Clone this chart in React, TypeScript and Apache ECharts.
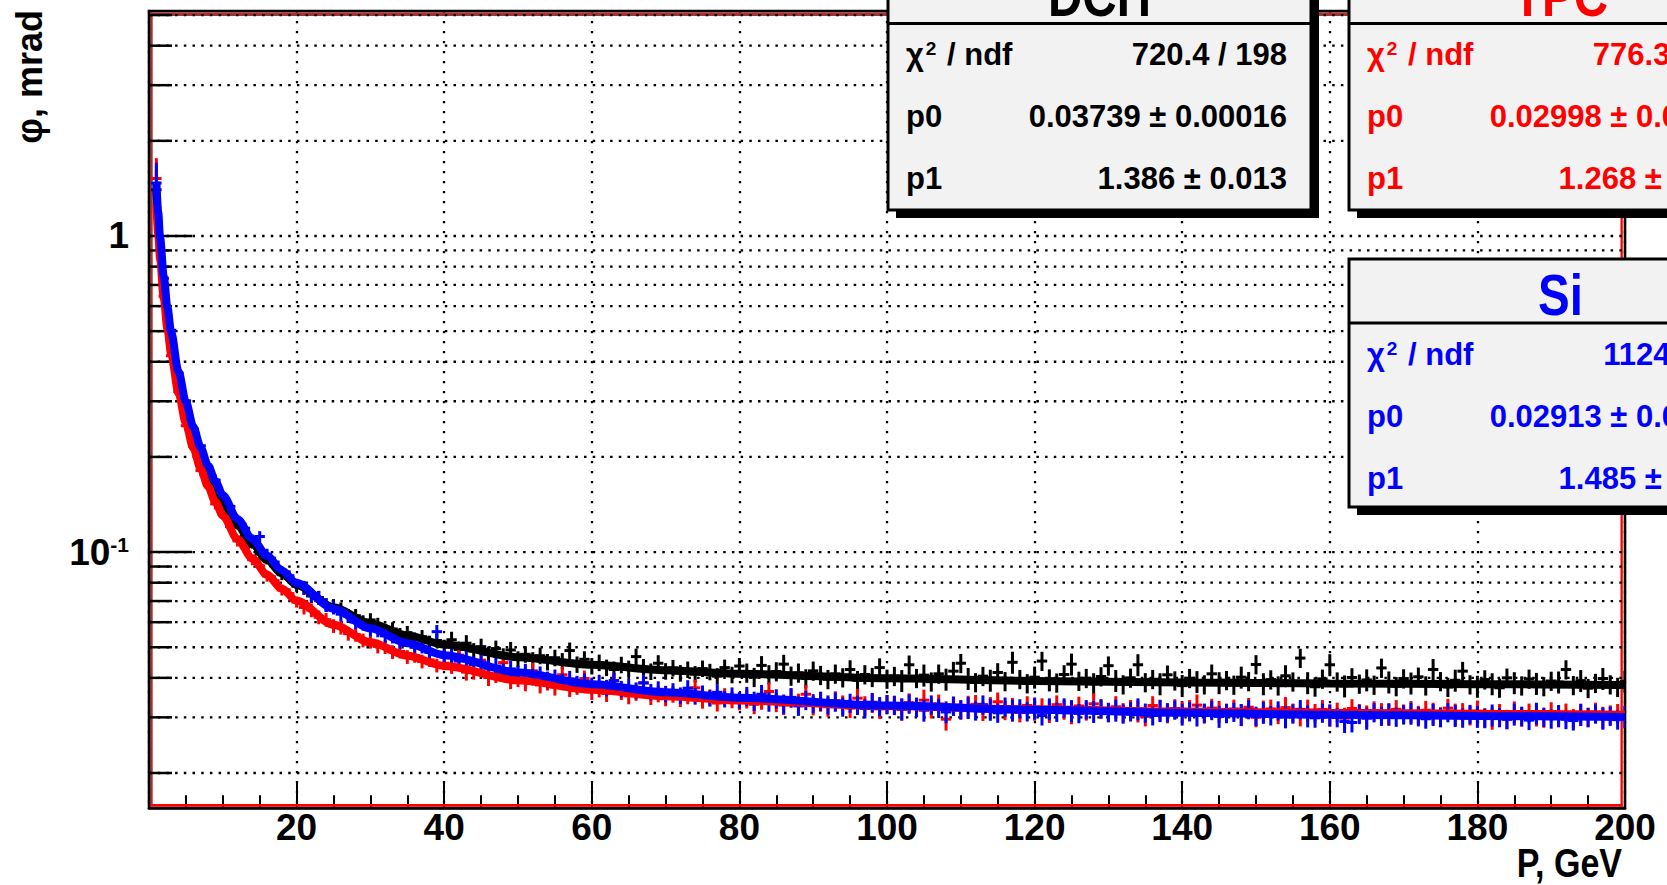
import React, { useEffect, useRef } from "react";
import * as echarts from "echarts";

// ---------- data ----------
const xBins: number[] = Array.from({ length: 200 }, (_, i) => i + 1);
const xErr = 0.5;

const dchY = [
  1.40, 0.700, 0.458, 0.352, 0.276, 0.236, 0.199, 0.179, 0.156, 0.145,
  0.130, 0.123, 0.112, 0.107, 0.0985, 0.0952, 0.0905, 0.0849, 0.0828, 0.0780,
  0.0772, 0.0726, 0.0718, 0.0681, 0.0676, 0.0660, 0.0628, 0.0629, 0.0601, 0.0610,
  0.0590, 0.0565, 0.0571, 0.0548, 0.0556, 0.0530, 0.0540, 0.0518, 0.0525, 0.0503,
  0.0528, 0.0492, 0.0515, 0.0486, 0.0502, 0.0474, 0.0495, 0.0468, 0.0490, 0.0458,
  0.0475, 0.0455, 0.0470, 0.0449, 0.0463, 0.0452, 0.0488, 0.0441, 0.0458, 0.0436,
  0.0447, 0.0431, 0.0425, 0.0440, 0.0428, 0.0467, 0.0433, 0.0419, 0.0445, 0.0420,
  0.0430, 0.0414, 0.0425, 0.0411, 0.0428, 0.0418, 0.0405, 0.0431, 0.0409, 0.0436,
  0.0415, 0.0402, 0.0438, 0.0410, 0.0419, 0.0442, 0.0406, 0.0415, 0.0398, 0.0421,
  0.0408, 0.0396, 0.0412, 0.0401, 0.0425, 0.0393, 0.0410, 0.0402, 0.0431, 0.0397,
  0.0405, 0.0392, 0.0440, 0.0399, 0.0408, 0.0389, 0.0412, 0.0396, 0.0420, 0.0445,
  0.0398, 0.0387, 0.0405, 0.0393, 0.0416, 0.0390, 0.0448, 0.0396, 0.0384, 0.0402,
  0.0452, 0.0394, 0.0386, 0.0410, 0.0442, 0.0391, 0.0399, 0.0383, 0.0404, 0.0437,
  0.0392, 0.0381, 0.0400, 0.0440, 0.0387, 0.0396, 0.0383, 0.0409, 0.0392, 0.0378,
  0.0399, 0.0389, 0.0381, 0.0412, 0.0386, 0.0393, 0.0380, 0.0402, 0.0390, 0.0441,
  0.0383, 0.0395, 0.0378, 0.0406, 0.0389, 0.0462, 0.0386, 0.0375, 0.0397, 0.0440,
  0.0389, 0.0377, 0.0401, 0.0383, 0.0394, 0.0380, 0.0430, 0.0388, 0.0376, 0.0398,
  0.0385, 0.0403, 0.0378, 0.0425, 0.0390, 0.0374, 0.0393, 0.0420, 0.0381, 0.0376,
  0.0395, 0.0383, 0.0372, 0.0400, 0.0386, 0.0378, 0.0397, 0.0384, 0.0376, 0.0391,
  0.0388, 0.0425, 0.0379, 0.0392, 0.0371, 0.0385, 0.0398, 0.0381, 0.0374, 0.0390,
];

const tpcY = [
  1.52, 0.645, 0.418, 0.322, 0.251, 0.216, 0.181, 0.163, 0.142, 0.132,
  0.1205, 0.1085, 0.1032, 0.0946, 0.0905, 0.0840, 0.0812, 0.0759, 0.0739, 0.0695,
  0.0668, 0.0655, 0.0622, 0.0611, 0.0584, 0.0577, 0.0552, 0.0548, 0.0526, 0.0521,
  0.0503, 0.0501, 0.0483, 0.0485, 0.0466, 0.0470, 0.0451, 0.0456, 0.0438, 0.0445,
  0.0438, 0.0472, 0.0417, 0.0420, 0.0455, 0.0401, 0.0410, 0.0447, 0.0392, 0.0398,
  0.0386, 0.0421, 0.0380, 0.0388, 0.0374, 0.0409, 0.0370, 0.0376, 0.0398, 0.0362,
  0.0369, 0.0357, 0.0392, 0.0362, 0.0351, 0.0360, 0.0385, 0.0349, 0.0356, 0.0346,
  0.0355, 0.0344, 0.0351, 0.0372, 0.0340, 0.0347, 0.0333, 0.0350, 0.0341, 0.0336,
  0.0344, 0.0330, 0.0341, 0.0362, 0.0335, 0.0328, 0.0346, 0.0333, 0.0355, 0.0327,
  0.0336, 0.0324, 0.0339, 0.0329, 0.0321, 0.0345, 0.0327, 0.0333, 0.0319, 0.0330,
  0.0328, 0.0318, 0.0334, 0.0324, 0.0340, 0.0320, 0.0331, 0.0296, 0.0326, 0.0317,
  0.0325, 0.0330, 0.0314, 0.0322, 0.0336, 0.0316, 0.0320, 0.0311, 0.0327, 0.0318,
  0.0322, 0.0313, 0.0329, 0.0317, 0.0310, 0.0326, 0.0315, 0.0331, 0.0319, 0.0312,
  0.0324, 0.0311, 0.0318, 0.0314, 0.0302, 0.0327, 0.0316, 0.0309, 0.0320, 0.0312,
  0.0318, 0.0328, 0.0308, 0.0321, 0.0313, 0.0310, 0.0319, 0.0306, 0.0323, 0.0300,
  0.0314, 0.0319, 0.0307, 0.0322, 0.0310, 0.0302, 0.0316, 0.0309, 0.0318, 0.0305,
  0.0312, 0.0298, 0.0320, 0.0309, 0.0303, 0.0315, 0.0311, 0.0306, 0.0318, 0.0308,
  0.0313, 0.0305, 0.0316, 0.0309, 0.0302, 0.0321, 0.0307, 0.0311, 0.0304, 0.0314,
  0.0300, 0.0298, 0.0309, 0.0296, 0.0312, 0.0301, 0.0310, 0.0305, 0.0299, 0.0313,
  0.0303, 0.0310, 0.0298, 0.0307, 0.0301, 0.0312, 0.0300, 0.0306, 0.0309, 0.0302,
];

const siY = [
  1.47, 0.735, 0.503, 0.368, 0.301, 0.246, 0.217, 0.186, 0.169, 0.150,
  0.1395, 0.1262, 0.1190, 0.1093, 0.1120, 0.0985, 0.0930, 0.0869, 0.0842, 0.0792,
  0.0771, 0.0729, 0.0716, 0.0680, 0.0668, 0.0636, 0.0629, 0.0600, 0.0594, 0.0570,
  0.0566, 0.0543, 0.0541, 0.0520, 0.0530, 0.0500, 0.0503, 0.0482, 0.0560, 0.0468,
  0.0471, 0.0452, 0.0460, 0.0441, 0.0447, 0.0429, 0.0436, 0.0419, 0.0427, 0.0412,
  0.0418, 0.0403, 0.0410, 0.0395, 0.0401, 0.0389, 0.0397, 0.0383, 0.0390, 0.0378,
  0.0386, 0.0372, 0.0392, 0.0369, 0.0375, 0.0365, 0.0386, 0.0361, 0.0368, 0.0356,
  0.0363, 0.0352, 0.0371, 0.0350, 0.0357, 0.0345, 0.0360, 0.0343, 0.0352, 0.0340,
  0.0350, 0.0338, 0.0355, 0.0336, 0.0344, 0.0331, 0.0347, 0.0326, 0.0340, 0.0332,
  0.0338, 0.0329, 0.0336, 0.0324, 0.0333, 0.0328, 0.0320, 0.0335, 0.0325, 0.0330,
  0.0328, 0.0319, 0.0331, 0.0323, 0.0316, 0.0329, 0.0321, 0.0312, 0.0326, 0.0318,
  0.0322, 0.0315, 0.0329, 0.0318, 0.0310, 0.0324, 0.0316, 0.0320, 0.0313, 0.0321,
  0.0304, 0.0319, 0.0312, 0.0322, 0.0315, 0.0309, 0.0318, 0.0313, 0.0320, 0.0311,
  0.0316, 0.0308, 0.0313, 0.0319, 0.0310, 0.0304, 0.0315, 0.0311, 0.0317, 0.0307,
  0.0313, 0.0305, 0.0310, 0.0316, 0.0302, 0.0309, 0.0312, 0.0306, 0.0318, 0.0303,
  0.0311, 0.0304, 0.0315, 0.0301, 0.0308, 0.0318, 0.0303, 0.0299, 0.0310, 0.0305,
  0.0300, 0.0291, 0.0289, 0.0307, 0.0298, 0.0311, 0.0303, 0.0308, 0.0301, 0.0306,
  0.0309, 0.0302, 0.0297, 0.0306, 0.0300, 0.0311, 0.0304, 0.0299, 0.0307, 0.0302,
  0.0298, 0.0305, 0.0300, 0.0296, 0.0307, 0.0303, 0.0294, 0.0309, 0.0301, 0.0297,
  0.0304, 0.0296, 0.0293, 0.0306, 0.0300, 0.0308, 0.0298, 0.0303, 0.0295, 0.0301,
];

// relative vertical error (percent) per bin
const errPct = [
  16, 10, 7, 5, 4, 4, 4, 4, 4, 4, 4, 4, 4, 4, 4, 4, 4, 4, 4, 4,
  5, 5, 5, 5, 5, 5, 5, 5, 5, 5, 5, 5, 5, 5, 5, 5, 5, 5, 5, 5,
  6, 6, 6, 6, 6, 6, 6, 6, 6, 6, 6, 6, 6, 6, 6, 6, 6, 6, 6, 6,
  6, 6, 6, 6, 6, 6, 6, 6, 6, 6, 6, 6, 6, 6, 6, 6, 6, 6, 6, 6,
  7, 7, 7, 7, 7, 7, 7, 7, 7, 7, 7, 7, 7, 7, 7, 7, 7, 7, 7, 7,
  7, 8, 7, 7, 8, 7, 7, 8, 7, 7, 8, 7, 7, 8, 7, 7, 8, 7, 7, 8,
  7, 8, 7, 7, 8, 7, 7, 8, 7, 7, 8, 7, 7, 8, 7, 7, 8, 7, 7, 8,
  7, 8, 7, 7, 8, 7, 7, 8, 7, 7, 8, 7, 7, 8, 7, 7, 8, 7, 7, 8,
  7, 8, 7, 7, 8, 7, 7, 8, 7, 7, 8, 7, 7, 8, 7, 7, 8, 7, 7, 8,
  7, 8, 7, 7, 8, 7, 7, 8, 7, 7, 8, 7, 7, 8, 7, 7, 8, 7, 7, 8,
];

// fitted curves
const fitX = [1, 1.25, 1.5, 2, 2.5, 3, 4, 5, 6, 7, 8, 9, 10, 12, 14, 16, 18, 20, 25, 30, 35, 40, 50, 60, 70, 80, 100, 120, 140, 160, 180, 200];
const fitDCH = [1.386, 1.109, 0.924, 0.694, 0.5545, 0.4635, 0.3485, 0.2797, 0.234, 0.2015, 0.1772, 0.1585, 0.1436, 0.1214, 0.1058, 0.0944, 0.0856, 0.0787, 0.0669, 0.0594, 0.0545, 0.0510, 0.0465, 0.0440, 0.0423, 0.0412, 0.0399, 0.0391, 0.0387, 0.0384, 0.0382, 0.0380];
const fitTPC = [1.268, 1.0144, 0.8454, 0.6347, 0.5073, 0.4237, 0.3184, 0.2554, 0.2134, 0.1836, 0.1613, 0.1440, 0.1303, 0.1098, 0.0954, 0.0847, 0.0766, 0.0701, 0.0589, 0.0518, 0.0470, 0.0436, 0.0393, 0.0367, 0.0350, 0.0339, 0.0326, 0.0318, 0.0313, 0.0310, 0.0308, 0.0306];
const fitSi = [1.485, 1.188, 0.990, 0.7431, 0.594, 0.4959, 0.3724, 0.2984, 0.2492, 0.2141, 0.1879, 0.1676, 0.1513, 0.1271, 0.1100, 0.0973, 0.0875, 0.0798, 0.0662, 0.0574, 0.0515, 0.0472, 0.0416, 0.0382, 0.0360, 0.0346, 0.0327, 0.0317, 0.0310, 0.0306, 0.0303, 0.0301];

// axis / grid values
const yGridValues = [0.02, 0.03, 0.04, 0.05, 0.06, 0.07, 0.08, 0.09, 0.1, 0.2, 0.3, 0.4, 0.5, 0.6, 0.7, 0.8, 0.9, 1, 2, 3, 4, 5];
const xTickLabels = ["20", "40", "60", "80", "100", "120", "140", "160", "180", "200"];

// stat boxes
const boxTitles = ["DCH", "TPC", "Si"];
const boxChi2 = ["720.4 / 198", "776.3 / 198", "1124 / 198"];
const boxP0 = ["0.03739 \u00b1 0.00016", "0.02998 \u00b1 0.00015", "0.02913 \u00b1 0.00014"];
const boxP1 = ["1.386 \u00b1 0.013", "1.268 \u00b1 0.012", "1.485 \u00b1 0.014"];

const xTitle = "P, GeV";
const yTitle = "\u03c6, mrad";

// ---------- styling ----------
const SANS = '"Liberation Sans", Arial, Helvetica, sans-serif';
const C_DCH = "#000000";
const C_TPC = "#ff0000";
const C_SI = "#0000ff";
const TOP_Z = 100;

function crossRender(color: string) {
  return (params: any, api: any) => {
    const x = api.value(0);
    const y = api.value(1);
    const e = api.value(2);
    const c = api.coord([x, y]);
    const t = api.coord([x, y + e]);
    const b = api.coord([x, y - e]);
    const l = api.coord([x - xErr, y]);
    const r = api.coord([x + xErr, y]);
    return {
      type: "group",
      children: [
        { type: "line", shape: { x1: c[0], y1: t[1], x2: c[0], y2: b[1] }, style: { stroke: color, lineWidth: 3 } },
        { type: "line", shape: { x1: l[0] - 1.5, y1: c[1], x2: r[0] + 1.5, y2: c[1] }, style: { stroke: color, lineWidth: 3 } },
      ],
    };
  };
}

function gridRender(params: any, api: any) {
  const v = api.value(1);
  const p = api.coord([0, v]);
  const cs = params.coordSys;
  const lg = Math.log10(v);
  const major = Math.abs(lg - Math.round(lg)) < 1e-6;
  return {
    type: "group",
    children: [
      { type: "line", shape: { x1: cs.x, y1: p[1], x2: cs.x + cs.width, y2: p[1] }, style: { stroke: "#000", lineWidth: 2.3, lineDash: [2.5, 6.2] } },
      { type: "line", shape: { x1: cs.x, y1: p[1], x2: cs.x + (major ? 43 : 23), y2: p[1] }, style: { stroke: "#000", lineWidth: 2.5 } },
    ],
  };
}

function statBox(x: number, top: number, sep: number, bottom: number, w: number, idx: number, color: string) {
  const rowFont = { fontFamily: SANS, fontWeight: "bold" as const, fontSize: 31 };
  const els: any[] = [
    { type: "rect", z: TOP_Z, shape: { x: x + 8, y: top + 8, width: w, height: bottom - top }, style: { fill: "#000" } },
    { type: "rect", z: TOP_Z + 1, shape: { x, y: top, width: w, height: bottom - top }, style: { fill: "#f2f2f2", stroke: "#000", lineWidth: 3 } },
    { type: "line", z: TOP_Z + 2, shape: { x1: x, y1: sep, x2: x + w, y2: sep }, style: { stroke: "#000", lineWidth: 3 } },
    {
      type: "text", z: TOP_Z + 2, x: x + w / 2, y: sep - 28, scaleX: 0.82,
      style: { text: boxTitles[idx], fill: color, fontFamily: SANS, fontWeight: "bold", fontSize: 58, align: "center", verticalAlign: "middle", textAlign: "center", textVerticalAlign: "middle" },
    },
  ];
  const labels = ["{a|\u03c7}{s|2}{a| / ndf}", "p0", "p1"];
  const values = [boxChi2[idx], boxP0[idx], boxP1[idx]];
  for (let i = 0; i < 3; i++) {
    const cy = sep + 31 + 62 * i;
    els.push({
      type: "text", z: TOP_Z + 2, x: x + 18, y: cy,
      style: {
        text: labels[i], fill: color, ...rowFont, align: "left", verticalAlign: "middle", textAlign: "left", textVerticalAlign: "middle",
        rich: {
          a: { ...rowFont, fill: color, color },
          s: { fontFamily: SANS, fontWeight: "bold", fontSize: 19, fill: color, color, verticalAlign: "top", padding: [0, 2, 0, 2] },
        },
      },
    });
    els.push({
      type: "text", z: TOP_Z + 2, x: x + w - 24, y: cy,
      style: { text: values[i], fill: color, ...rowFont, align: "right", verticalAlign: "middle", textAlign: "right", textVerticalAlign: "middle" },
    });
  }
  return els;
}

export default function App() {
  const ref = useRef<HTMLDivElement>(null);

  useEffect(() => {
    if (!ref.current) return;
    const chart = echarts.init(ref.current, undefined, { renderer: "svg" });

    const mk = (ys: number[]) => xBins.map((x, i) => [x, ys[i], (ys[i] * errPct[i]) / 100]);
    const fit = (ys: number[]) => fitX.map((x, i) => [x, ys[i]]);

    const crossSeries = (name: string, ys: number[], color: string) => ({
      name, type: "custom", renderItem: crossRender(color), data: mk(ys), clip: true, silent: true,
      encode: { x: 0, y: 1 },
    });
    const fitSeries = (name: string, ys: number[], color: string) => ({
      name, type: "line", data: fit(ys), symbol: "none", showSymbol: false, smooth: 0.3, smoothMonotone: "x",
      clip: true, silent: true, lineStyle: { color, width: 8 }, itemStyle: { color },
    });

    const axisFont = { fontFamily: SANS, fontWeight: "bold" as const, fontSize: 37, color: "#000" };

    const option: any = {
      animation: false,
      backgroundColor: "#ffffff",
      grid: { left: 149, top: 11, width: 1476, height: 797, show: true, borderColor: "#000", borderWidth: 2.6, backgroundColor: "transparent" },
      xAxis: {
        type: "value", min: 0, max: 200, interval: 20,
        axisLine: { show: true, onZero: false, lineStyle: { color: "#000", width: 2.6 } },
        axisTick: { show: true, inside: true, length: 25, lineStyle: { color: "#000", width: 2 } },
        minorTick: { show: true, splitNumber: 4, length: 12.7, lineStyle: { color: "#000", width: 2 } },
        splitLine: { show: true, lineStyle: { color: "#000", width: 2.3, type: [2.3, 7.7] } },
        axisLabel: {
          ...axisFont, margin: 1,
          formatter: (v: number) => (xTickLabels.indexOf(String(v)) >= 0 ? String(v) : ""),
        },
      },
      yAxis: {
        type: "log", logBase: 10, min: 0.0155, max: 5.15,
        axisLine: { show: true, onZero: false, lineStyle: { color: "#000", width: 2.6 } },
        axisTick: { show: false },
        splitLine: { show: false },
        axisLabel: {
          ...axisFont, margin: 20,
          formatter: (v: number) => {
            const l = Math.round(Math.log10(v) * 1000) / 1000;
            if (l === 0) return "1";
            if (l === -1) return "{b|10}{s|-1}";
            return "";
          },
          rich: {
            b: { ...axisFont },
            s: { fontFamily: SANS, fontWeight: "bold", fontSize: 21, color: "#000", verticalAlign: "top" },
          },
        },
      },
      series: [
        { name: "grid", type: "custom", renderItem: gridRender, data: yGridValues.map((v) => [0, v]), silent: true, z: 1, encode: { x: 0, y: 1 } },
        crossSeries("DCH", dchY, C_DCH),
        fitSeries("DCH fit", fitDCH, C_DCH),
        crossSeries("TPC", tpcY, C_TPC),
        fitSeries("TPC fit", fitTPC, C_TPC),
        crossSeries("Si", siY, C_SI),
        fitSeries("Si fit", fitSi, C_SI),
      ],
      graphic: [
        // frame bevel
        { type: "rect", z: 1, shape: { x: 150.3, y: 12.3, width: 1472.4, height: 3.7 }, style: { fill: "#a33232" } },
        { type: "rect", z: 1, shape: { x: 150.3, y: 12.3, width: 2.4, height: 793 }, style: { fill: "#a33232" } },
        { type: "rect", z: 1, shape: { x: 150.3, y: 804, width: 1472.4, height: 2.7 }, style: { fill: "#ff0000" } },
        { type: "rect", z: 1, shape: { x: 1620.5, y: 14, width: 2.3, height: 792.7 }, style: { fill: "#ff0000" } },
        // axis titles
        {
          type: "text", z: 5, x: 1622, y: 863, scaleX: 0.85,
          style: { text: xTitle, fill: "#000", fontFamily: SANS, fontWeight: "bold", fontSize: 40, lineHeight: 40, align: "right", verticalAlign: "middle", textAlign: "right", textVerticalAlign: "middle" },
        },
        {
          type: "text", z: 5, x: 29, y: 10, rotation: Math.PI / 2,
          style: { text: yTitle, fill: "#000", fontFamily: SANS, fontWeight: "bold", fontSize: 36, align: "right", verticalAlign: "middle", textAlign: "right", textVerticalAlign: "middle" },
        },
        ...statBox(888, -40.5, 23.5, 210, 423, 0, C_DCH),
        ...statBox(1349, -40.5, 23.5, 210, 423, 1, C_TPC),
        ...statBox(1349, 259, 323, 507, 423, 2, C_SI),
      ],
    };

    chart.setOption(option);
    return () => chart.dispose();
  }, []);

  return <div ref={ref} style={{ position: "fixed", left: 0, top: 0, width: 1667, height: 885, background: "#fff" }} />;
}
